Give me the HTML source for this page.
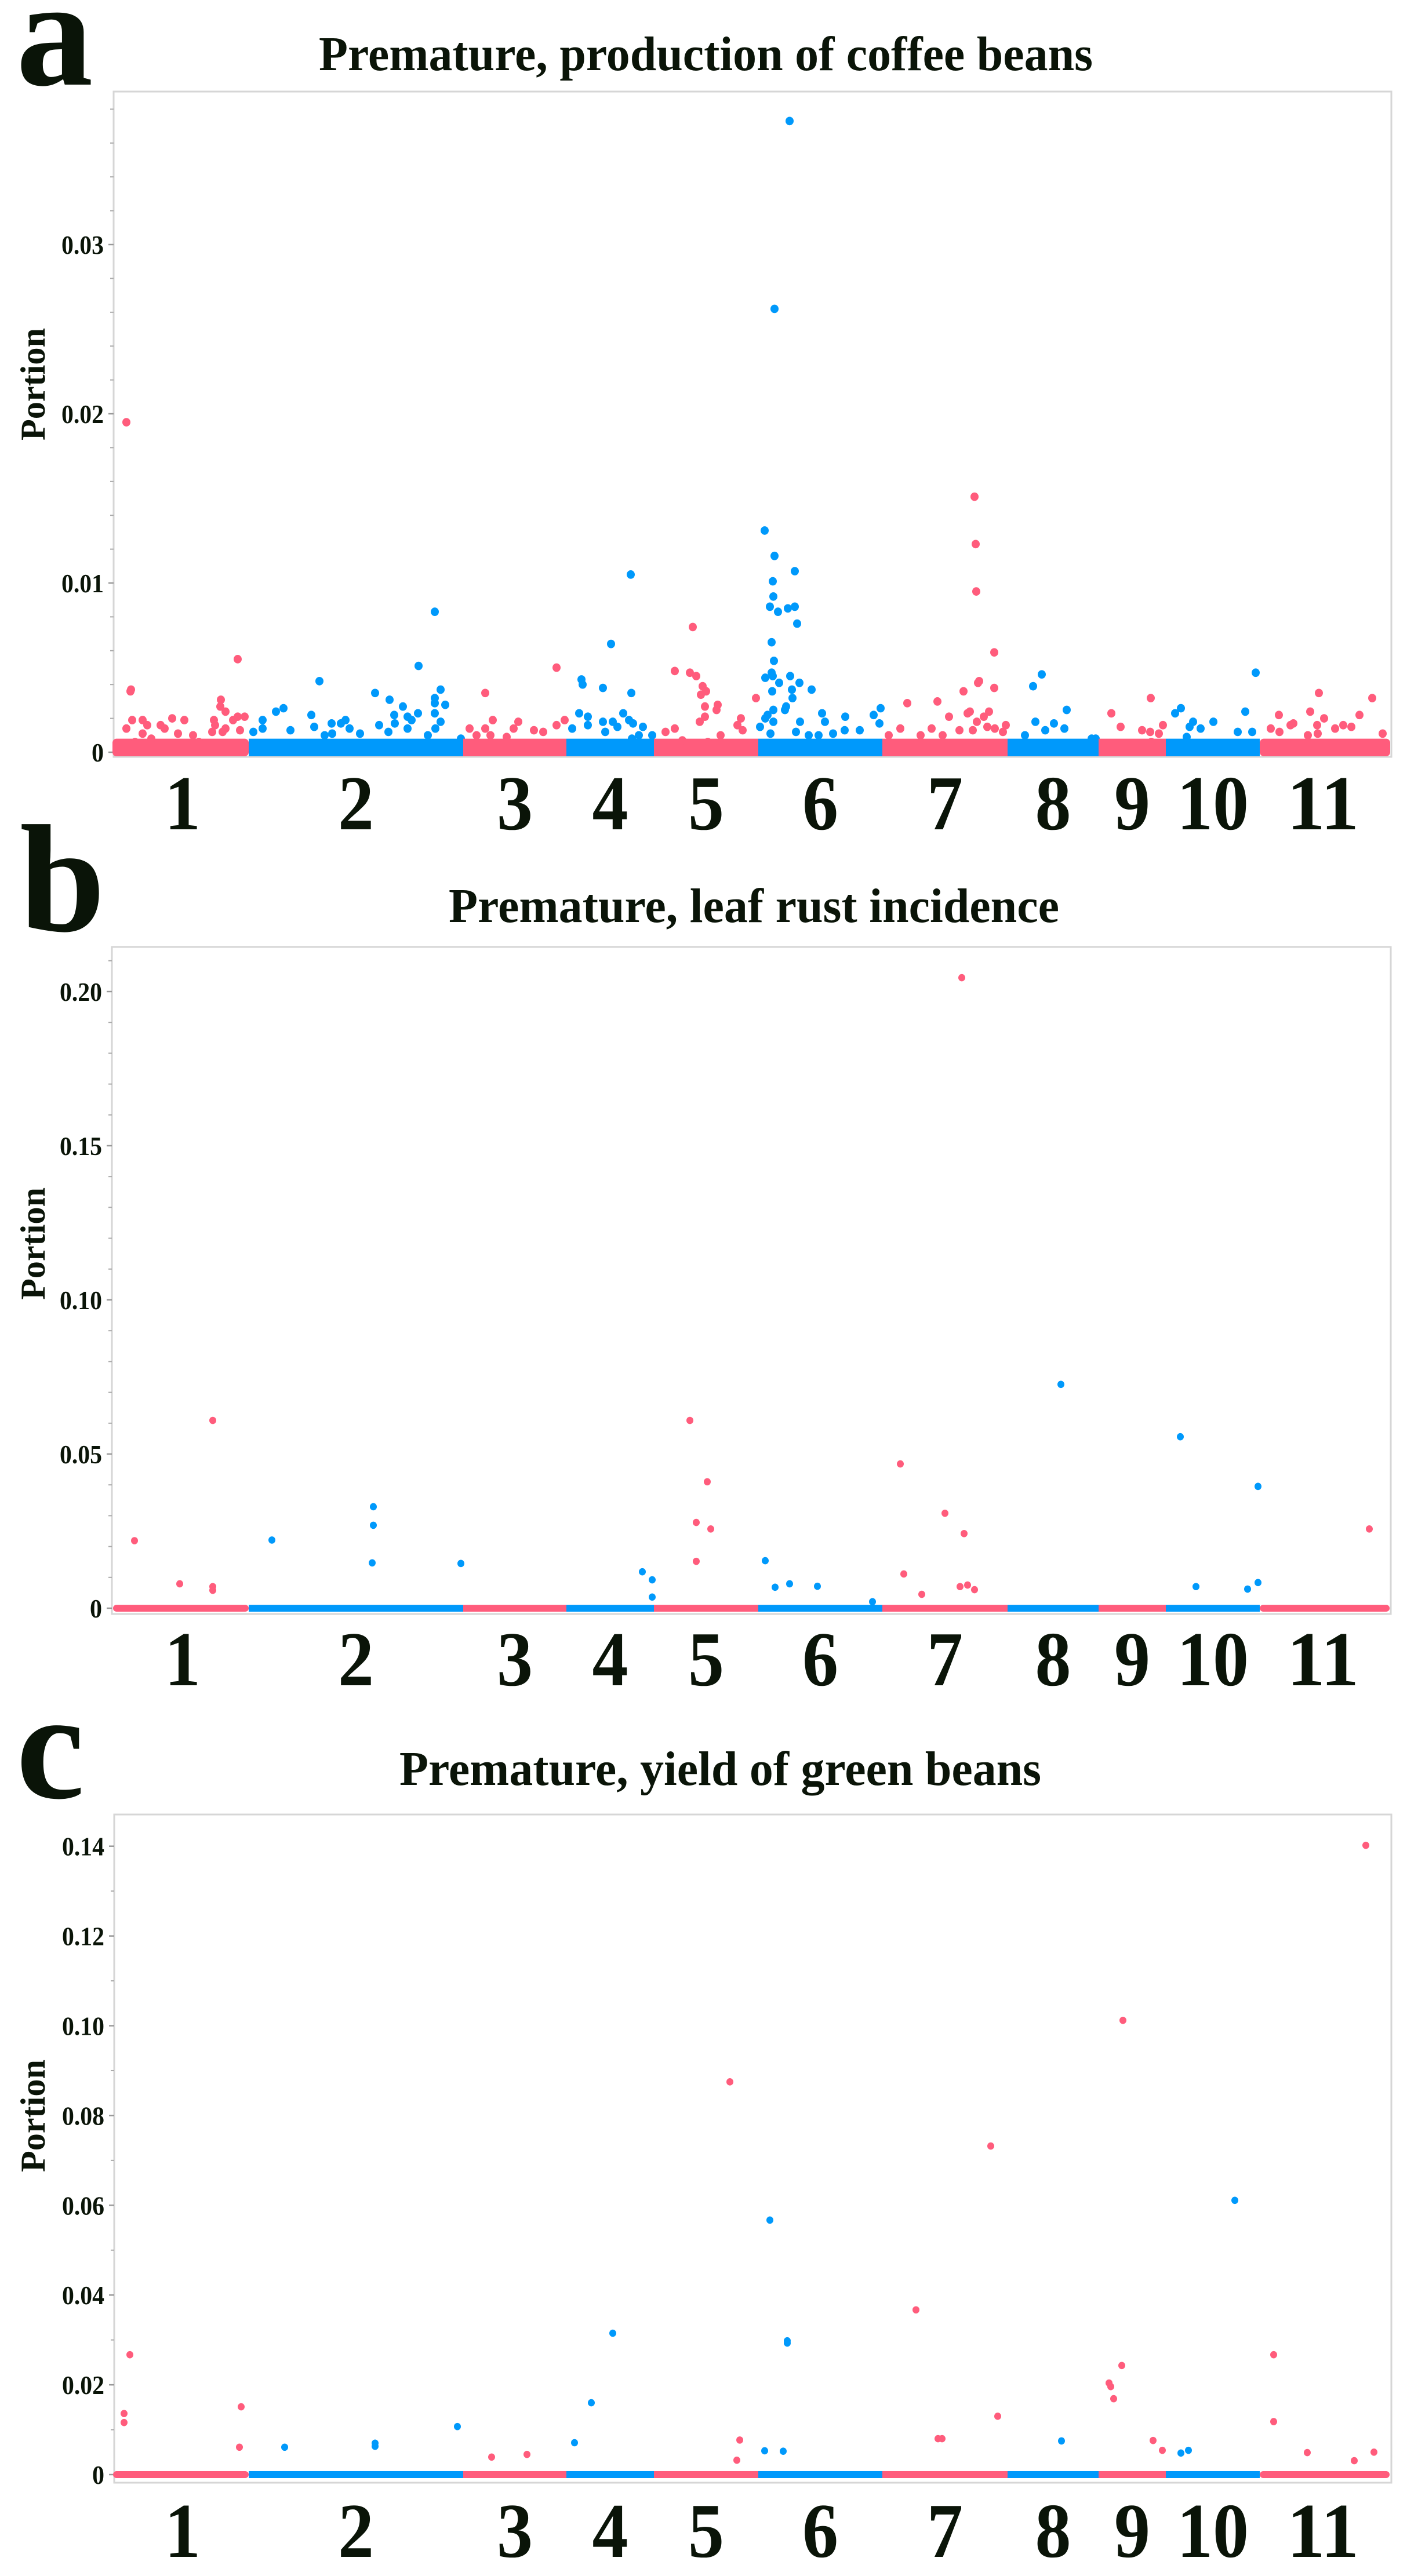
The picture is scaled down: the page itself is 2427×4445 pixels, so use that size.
<!DOCTYPE html>
<html><head><meta charset="utf-8"><title>Premature Manhattan plots</title>
<style>
html,body{margin:0;padding:0;background:#fff;}
svg{display:block;}
</style></head>
<body>
<svg id="fig" xmlns="http://www.w3.org/2000/svg" width="2427" height="4445" viewBox="0 0 2427 4445"></svg>
<script>
// ---- shared data ----
const chromNames = ["1","2","3","4","5","6","7","8","9","10","11"];
const chromLen = [45.6,74,35.6,30.2,36,42.8,43.2,31.4,23.2,32.4,43.6];

// ---- panel a: production of coffee beans ----
const aTicks = [0,0.01,0.02,0.03];
const aTickLabels = ["0","0.01","0.02","0.03"];
const aPos = [
 [3.4,5.0,4.8,3.4,5.4,9.0,10.6,9.0,15.2,16.6,19.2,23.4,12.0,21.2,26.4,33.6,34.0,36.0,35.8,37.6,37.6,36.6,40.2,41.8,44.2,42.6,41.8,33.0,6.4,28.4],
 [1.6,4.8,4.8,9.4,12.0,14.4,21.6,22.6,24.4,26.2,28.6,31.8,33.4,34.8,38.4,43.6,45.0,48.6,48.2,50.2,50.4,53.2,54.8,56.2,54.8,58.4,58.6,64.2,66.2,64.2,64.2,67.8,64.2,66.2,64.4,73.2,61.8,28.8],
 [2.2,4.6,7.6,7.6,10.2,17.4,19.0,24.4,27.6,32.2,32.2,35.0,15.0,9.4],
 [2.0,5.2,5.6,4.4,7.4,7.4,12.6,12.6,13.4,15.4,16.0,17.6,19.6,21.6,22.4,23.0,26.4,25.0,22.6,29.6,22.2],
 [7.2,12.4,14.6,13.4,16.8,18.0,16.2,17.6,22.0,21.6,17.6,15.8,7.2,4.0,9.8,23.0,30.0,28.8,30.6,35.2,18.6],
 [2.2,5.6,5.0,5.2,4.0,6.8,10.2,12.6,12.6,13.4,10.8,5.6,4.6,5.4,4.6,2.4,5.0,11.0,7.2,14.2,4.8,11.6,18.4,11.8,9.6,9.2,5.2,3.2,2.4,5.2,14.4,0.6,22.0,23.0,30.0,29.8,35.0,39.8,42.2,41.8,13.0,20.8,25.8,4.2,17.4],
 [2.2,6.2,8.6,13.2,17.0,19.0,23.0,20.8,26.6,28.0,29.4,30.2,33.0,33.4,31.2,32.6,31.8,32.2,32.4,38.6,38.6,36.8,35.0,36.2,38.8,42.6,41.6],
 [11.8,8.8,20.4,9.6,13.0,16.0,19.6,6.0,30.4,29.0],
 [4.4,7.6,18.0,15.0,17.8,22.2,20.8,18.2],
 [3.2,5.2,9.4,8.2,12.0,16.4,27.4,31.0,24.8,29.8,7.2],
 [3.8,6.6,10.6,11.6,17.4,20.4,19.8,22.2,20.0,26.0,28.8,31.6,34.4,38.8,42.4,16.6,6.8]
];
const aVal = [
 [0.0195,0.0037,0.0036,0.0014,0.0019,0.0019,0.0016,0.0011,0.0016,0.0014,0.0020,0.0019,0.0008,0.0011,0.0010,0.0019,0.0016,0.0031,0.0027,0.0024,0.0014,0.0012,0.0019,0.0021,0.0021,0.0013,0.0055,0.0012,0.0006,0.0006],
 [0.0012,0.0019,0.0014,0.0024,0.0026,0.0013,0.0022,0.0015,0.0042,0.0010,0.0017,0.0017,0.0019,0.0014,0.0011,0.0035,0.0016,0.0031,0.0012,0.0022,0.0017,0.0027,0.0021,0.0019,0.0014,0.0023,0.0051,0.0083,0.0037,0.0032,0.0029,0.0028,0.0023,0.0018,0.0014,0.0008,0.0010,0.0011],
 [0.0014,0.0010,0.0035,0.0014,0.0019,0.0014,0.0018,0.0013,0.0012,0.0050,0.0016,0.0019,0.0009,0.0010],
 [0.0014,0.0043,0.0040,0.0023,0.0021,0.0016,0.0038,0.0018,0.0012,0.0064,0.0018,0.0015,0.0023,0.0019,0.0035,0.0017,0.0015,0.0010,0.0008,0.0010,0.0105],
 [0.0048,0.0047,0.0045,0.0074,0.0039,0.0036,0.0034,0.0027,0.0028,0.0025,0.0021,0.0018,0.0014,0.0012,0.0007,0.0010,0.0020,0.0016,0.0013,0.0032,0.0006],
 [0.0131,0.0116,0.0101,0.0092,0.0086,0.0083,0.0085,0.0086,0.0107,0.0076,0.0373,0.0262,0.0065,0.0054,0.0047,0.0044,0.0045,0.0045,0.0041,0.0041,0.0036,0.0037,0.0037,0.0032,0.0027,0.0025,0.0025,0.0022,0.0020,0.0018,0.0018,0.0015,0.0023,0.0018,0.0021,0.0013,0.0013,0.0022,0.0026,0.0017,0.0012,0.0010,0.0011,0.0011,0.0010],
 [0.0010,0.0014,0.0029,0.0010,0.0014,0.0030,0.0021,0.0010,0.0013,0.0036,0.0023,0.0024,0.0041,0.0042,0.0013,0.0018,0.0151,0.0123,0.0095,0.0059,0.0038,0.0024,0.0021,0.0015,0.0014,0.0016,0.0012],
 [0.0046,0.0039,0.0025,0.0018,0.0013,0.0017,0.0014,0.0010,0.0008,0.0008],
 [0.0023,0.0015,0.0032,0.0013,0.0012,0.0016,0.0011,0.0006],
 [0.0023,0.0026,0.0018,0.0015,0.0014,0.0018,0.0024,0.0047,0.0012,0.0012,0.0009],
 [0.0014,0.0022,0.0016,0.0017,0.0024,0.0035,0.0016,0.0020,0.0011,0.0014,0.0016,0.0015,0.0022,0.0032,0.0011,0.0010,0.0012]
];

// ---- panel b: leaf rust incidence ----
const bTicks = [0,0.05,0.10,0.15,0.20];
const bTickLabels = ["0","0.05","0.10","0.15","0.20"];
const bPos = [
 [6.2,21.8,33.2,33.2,33.2],
 [8.0,43.0,43.0,42.6,73.2],
 [],
 [26.2,29.6,29.6],
 [12.4,18.4,14.6,19.6,14.6],
 [2.4,5.8,10.8,20.4,39.4],
 [27.4,6.2,7.4,13.6,21.6,28.2,26.8,29.4,31.8],
 [18.4],
 [],
 [5.0,10.4,28.2,31.8,31.8],
 [37.8]
];
const bVal = [
 [0.0219,0.0079,0.0609,0.0070,0.0058],
 [0.0221,0.0329,0.0269,0.0147,0.0145],
 [],
 [0.0118,0.0092,0.0036],
 [0.0609,0.0410,0.0278,0.0257,0.0152],
 [0.0154,0.0068,0.0079,0.0071,0.0021],
 [0.2045,0.0468,0.0111,0.0045,0.0308,0.0242,0.0070,0.0075,0.0060],
 [0.0726],
 [],
 [0.0556,0.0070,0.0062,0.0395,0.0083],
 [0.0257]
];

// ---- panel c: yield of green beans ----
const cTicks = [0,0.02,0.04,0.06,0.08,0.10,0.12,0.14];
const cTickLabels = ["0","0.02","0.04","0.06","0.08","0.10","0.12","0.14"];
const cPos = [
 [4.6,2.6,2.6,43.0,42.4],
 [12.4,43.6,43.6,72.0],
 [9.8,22.0],
 [2.8,8.6,16.0],
 [26.2,29.6,28.6],
 [4.0,10.0,10.0,2.2,8.6],
 [11.6,19.2,20.6,37.4,39.8],
 [18.6],
 [8.4,3.6,4.2,5.2,8.0,18.8,22.0],
 [23.8,5.2,7.8],
 [4.8,4.8,16.4,32.6,39.4,36.6]
];
const cVal = [
 [0.0267,0.0136,0.0116,0.0151,0.0061],
 [0.0061,0.0070,0.0063,0.0107],
 [0.0039,0.0045],
 [0.0071,0.0160,0.0315],
 [0.0875,0.0077,0.0032],
 [0.0567,0.0298,0.0293,0.0053,0.0052],
 [0.0367,0.0080,0.0080,0.0732,0.0130],
 [0.0075],
 [0.1012,0.0204,0.0196,0.0169,0.0243,0.0076,0.0054],
 [0.0611,0.0048,0.0054],
 [0.0267,0.0118,0.0049,0.0031,0.0050,0.1402]
];

// ---- rendering ----
const NS = "http://www.w3.org/2000/svg";
const svg = document.getElementById("fig");
const PINK = "#ff5c7c", BLUE = "#0099fb";
const PLOT_X0 = 201, PLOT_W = 2190;
const totalLen = chromLen.reduce((s, v) => s + v, 0);
const cumStart = [];
{ let s = 0; for (const l of chromLen) { cumStart.push(s); s += l; } }
function xScale(ci, pos) { return PLOT_X0 + (cumStart[ci] + pos) * PLOT_W / totalLen; }
function mk(tag, attrs, parent) {
  const e = document.createElementNS(NS, tag);
  for (const k in attrs) e.setAttribute(k, attrs[k]);
  (parent || svg).appendChild(e);
  return e;
}
const SERIF = '"Liberation Serif", "Times New Roman", serif';

function panel(cfg) {
  const g = mk("g", {});
  
  
  const yScale = v => cfg.y0 - v * cfg.pxPerUnit;

  const L = mk("text", {x: cfg.letterX, y: cfg.letterY, "font-family": SERIF, "font-weight": "bold", "font-size": 265, fill: "#0a1408"}, g);
  L.textContent = cfg.id;
  
  

  const T = mk("text", {x: cfg.titleX, y: cfg.titleY, "font-family": SERIF, "font-weight": "bold", "font-size": 84, fill: "#0a1408", textLength: cfg.titleW, lengthAdjust: "spacingAndGlyphs"}, g);
  T.textContent = cfg.title;
  
  

  const F = mk("rect", {x: cfg.box[0], y: cfg.box[1], width: cfg.box[2] - cfg.box[0], height: cfg.box[3] - cfg.box[1], fill: "#fff", stroke: "#d6d6d6", "stroke-width": 3}, g);
  
  

  for (let v = 0; yScale(v) > cfg.box[1] + 2; v += cfg.minor) {
    const t = mk("line", {x1: cfg.box[0] - 6, x2: cfg.box[0], y1: yScale(v), y2: yScale(v), stroke: "#aaa", "stroke-width": 2}, g);
    
    
  }
  cfg.ticks.forEach((v, i) => {
    const y = yScale(v);
    const t = mk("line", {x1: cfg.box[0] - 9, x2: cfg.box[0], y1: y, y2: y, stroke: "#999", "stroke-width": 2.5}, g);
    
    
    const lab = cfg.tickLabels[i];
    const digits = lab.replace(".", "").length, dots = lab.includes(".") ? 1 : 0;
    const tl = mk("text", {x: cfg.box[0] - 17 - (digits * 21 + dots * 10), y: y + 16, "font-family": SERIF, "font-weight": "bold", "font-size": 46, fill: "#0a1408", textLength: digits * 21 + dots * 10, lengthAdjust: "spacingAndGlyphs"}, g);
    tl.textContent = lab;
    
    
  });

  const YT = mk("text", {x: 0, y: 0, transform: `translate(77 ${cfg.portionY}) rotate(-90)`, "text-anchor": "middle", "font-family": SERIF, "font-weight": "bold", "font-size": 60, fill: "#0a1408", textLength: 194, lengthAdjust: "spacingAndGlyphs"}, g);
  YT.textContent = "Portion";
  
  

  chromNames.forEach((name, ci) => {
    const col = ci % 2 === 0 ? PINK : BLUE;
    const xa = xScale(ci, 0), xb = xScale(ci, chromLen[ci]);
    const top = yScale(cfg.bandTop), bot = cfg.y0 + cfg.r;
    const band = mk("rect", {x: xa - (ci === 0 ? cfg.r : 0), y: top, width: xb - xa + (ci === 0 || ci === 10 ? cfg.r : 0), height: bot - top, rx: ci === 0 || ci === 10 ? cfg.r : 0, fill: col}, g);
    
    
    cfg.pos[ci].forEach((p, j) => {
      const c = mk("ellipse", {cx: xScale(ci, p), cy: yScale(cfg.val[ci][j]), rx: cfg.r, ry: cfg.r * 1.05, fill: col}, g);
      
      
    });
    const digits = name.length;
    const cl = mk("text", {x: (xa + xb) / 2, y: cfg.chromY, "text-anchor": "middle", "font-family": SERIF, "font-weight": "bold", "font-size": 134, fill: "#0a1408", textLength: digits * 62, lengthAdjust: "spacingAndGlyphs"}, g);
    cl.textContent = name;
    
    
  });
}

panel({id: "a", title: "Premature, production of coffee beans", titleX: 550, titleY: 121, titleW: 1335,
  letterX: 28, letterY: 146, box: [196, 158, 2400, 1306], y0: 1298, pxPerUnit: 29200,
  ticks: aTicks, tickLabels: aTickLabels, minor: 0.002, portionY: 663, chromY: 1431,
  pos: aPos, val: aVal, r: 7, bandTop: 0.0008});
panel({id: "b", title: "Premature, leaf rust incidence", titleX: 774, titleY: 1591, titleW: 1053,
  letterX: 34, letterY: 1606, box: [193, 1634, 2399, 2785], y0: 2775, pxPerUnit: 5320,
  ticks: bTicks, tickLabels: bTickLabels, minor: 0.01, portionY: 2146, chromY: 2908,
  pos: bPos, val: bVal, r: 6, bandTop: 0.0011});
panel({id: "c", title: "Premature, yield of green beans", titleX: 689, titleY: 3080, titleW: 1107,
  letterX: 28, letterY: 3102, box: [197, 3131, 2400, 4284], y0: 4270, pxPerUnit: 7745,
  ticks: cTicks, tickLabels: cTickLabels, minor: 0.01, portionY: 3651, chromY: 4412,
  pos: cPos, val: cVal, r: 6, bandTop: 0.00078});
</script>
</body></html>
